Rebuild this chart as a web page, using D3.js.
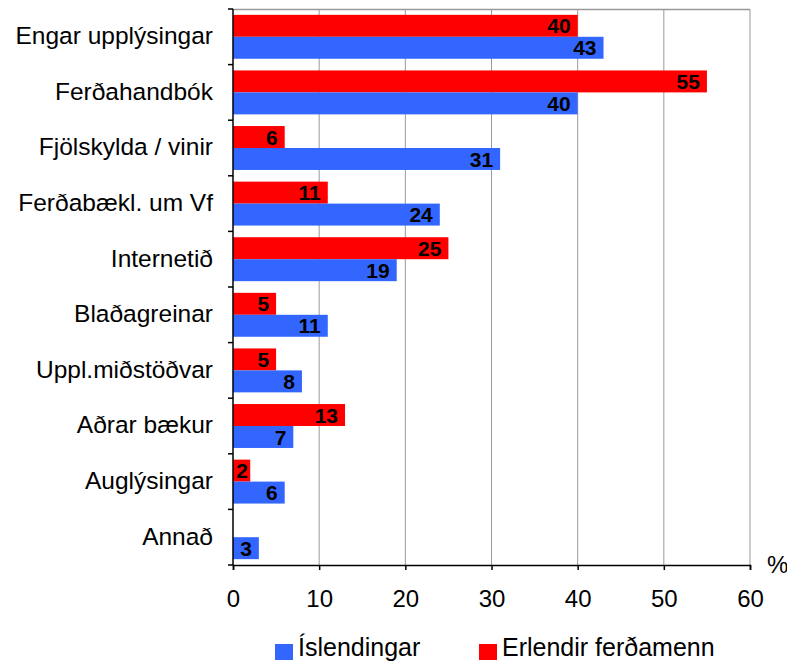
<!DOCTYPE html>
<html>
<head>
<meta charset="utf-8">
<script src="https://cdn.jsdelivr.net/npm/d3@7"></script>
<style>
  body { margin: 0; background: #fff; }
  text { font-family: "Liberation Sans", Arial, sans-serif; }
</style>
</head>
<body>
<div id="chart"></div>
<script>
	/*Data*/
	var categories = ["Engar upplýsingar", "Ferðahandbók", "Fjölskylda / vinir", "Ferðabækl. um Vf",
					  "Internetið", "Blaðagreinar", "Uppl.miðstöðvar", "Aðrar bækur", "Auglýsingar", "Annað"];
	var islendingar = [43, 40, 31, 24, 19, 11, 8, 7, 6, 3];
	var erlendir = [40, 55, 6, 11, 25, 5, 5, 13, 2, null];
	var xTicks = [0, 10, 20, 30, 40, 50, 60];
	var seriesNames = ["Íslendingar", "Erlendir ferðamenn"];

	/*SVG Size*/
	var width = 787;
	var height = 661;
	var plotL = 233, plotR = 750, plotT = 9, plotB = 565;

	var svg = d3.select("#chart").append("svg")
				.attr("width", width)
				.attr("height", height);

	var x = d3.scaleLinear().domain([0, 60]).range([plotL, plotR]);
	var y = d3.scaleBand().domain(categories).range([plotT, plotB]).paddingInner(0.21).paddingOuter(0.105);
	var sub = d3.scaleBand().domain(["erl", "isl"]).range([0, y.bandwidth()]);

	/*Grid*/
	svg.append("g").selectAll("line")
		.data(xTicks.slice(1))
		.join("line")
		.attr("x1", d => x(d)).attr("x2", d => x(d))
		.attr("y1", plotT).attr("y2", plotB)
		.attr("stroke", "#999").attr("stroke-width", 1);

	svg.append("line")
		.attr("x1", plotL).attr("x2", plotR)
		.attr("y1", plotT + 0.5).attr("y2", plotT + 0.5)
		.attr("stroke", "#999").attr("stroke-width", 1.5);

	/*Bars*/
	var rows = categories.map((c, i) => ({ cat: c, isl: islendingar[i], erl: erlendir[i] }));

	var g = svg.append("g").selectAll("g")
			   .data(rows)
			   .join("g")
			   .attr("transform", d => "translate(0," + y(d.cat) + ")");

	g.filter(d => d.erl != null).append("rect")
		.attr("x", x(0)).attr("y", sub("erl"))
		.attr("width", d => x(d.erl) - x(0)).attr("height", sub.bandwidth())
		.attr("fill", "#FF0000");

	g.append("rect")
		.attr("x", x(0)).attr("y", sub("isl"))
		.attr("width", d => x(d.isl) - x(0)).attr("height", sub.bandwidth())
		.attr("fill", "#3366FF");

	function valueLabel(v) {
		return Math.max(x(v) - 7, x(0) + 15);
	}

	g.filter(d => d.erl != null).append("text")
		.attr("x", d => valueLabel(d.erl))
		.attr("y", sub("erl") + sub.bandwidth() / 2)
		.attr("dy", "0.36em")
		.attr("text-anchor", "end")
		.attr("font-size", 21).attr("font-weight", "bold")
		.text(d => d.erl);

	g.append("text")
		.attr("x", d => valueLabel(d.isl))
		.attr("y", sub("isl") + sub.bandwidth() / 2)
		.attr("dy", "0.36em")
		.attr("text-anchor", "end")
		.attr("font-size", 21).attr("font-weight", "bold")
		.text(d => d.isl);

	/*Axes*/
	var xAxis = svg.append("g")
				   .attr("transform", "translate(0," + plotB + ")")
				   .call(d3.axisBottom(x).tickValues(xTicks).tickSize(5).tickPadding(0));
	xAxis.select(".domain").attr("stroke", "#000").attr("stroke-width", 1.5);
	xAxis.selectAll(".tick line").attr("stroke-width", 1.5);
	xAxis.selectAll("text")
		 .attr("y", 42).attr("dy", null)
		 .attr("font-size", 24).attr("fill", "#000")
		 .attr("font-family", "Liberation Sans, Arial, sans-serif");

	// category ticks sit on band boundaries
	var bounds = categories.map(c => y(c) - y.step() * y.paddingInner() / 2).concat([plotB]);
	bounds[0] = plotT;
	svg.append("g").selectAll("line")
		.data(bounds)
		.join("line")
		.attr("x1", plotL - 5).attr("x2", plotL)
		.attr("y1", d => d).attr("y2", d => d)
		.attr("stroke", "#000").attr("stroke-width", 1.5);

	svg.append("line")
		.attr("x1", plotL).attr("x2", plotL)
		.attr("y1", plotT).attr("y2", plotB)
		.attr("stroke", "#000").attr("stroke-width", 1.5);

	svg.append("g").selectAll("text")
		.data(categories)
		.join("text")
		.attr("x", 213)
		.attr("y", d => y(d) + y.bandwidth() / 2)
		.attr("dy", "0.3em")
		.attr("text-anchor", "end")
		.attr("font-size", 24.5)
		.text(d => d);

	svg.append("text")
		.attr("x", 767).attr("y", 573)
		.attr("font-size", 24)
		.text("%");

	/*Legend*/
	var legend = [
		{ name: seriesNames[0], color: "#3366FF", x: 275 },
		{ name: seriesNames[1], color: "#FF0000", x: 479 }
	];
	var lg = svg.append("g").selectAll("g")
				.data(legend)
				.join("g")
				.attr("transform", d => "translate(" + d.x + ",644)");
	lg.append("rect").attr("width", 18).attr("height", 16).attr("fill", d => d.color);
	lg.append("text").attr("x", 23).attr("y", 12).attr("font-size", 25).text(d => d.name);
</script>
</body>
</html>
